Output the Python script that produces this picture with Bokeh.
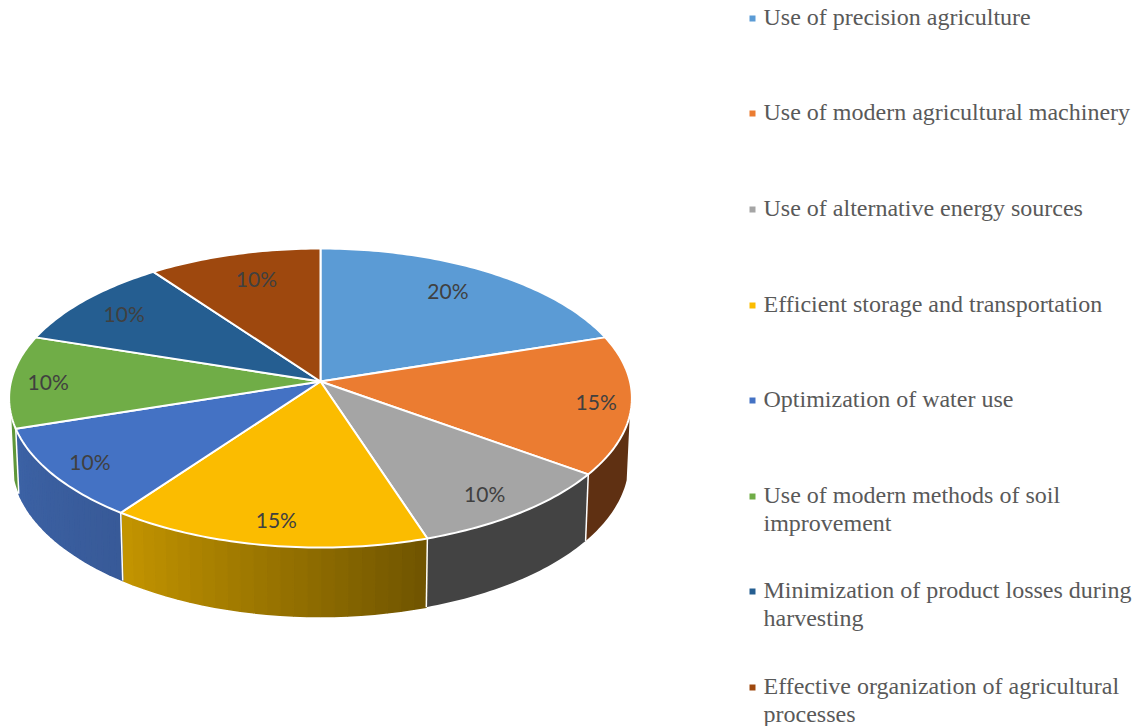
import math
from bokeh.plotting import figure
from bokeh.models import Range1d
from bokeh.core.properties import value
from bokeh.embed import file_html
from bokeh.resources import INLINE

categories = [
    ["Use of precision agriculture"],
    ["Use of modern agricultural machinery"],
    ["Use of alternative energy sources"],
    ["Efficient storage and transportation"],
    ["Optimization of water use"],
    ["Use of modern methods of soil", "improvement"],
    ["Minimization of product losses during", "harvesting"],
    ["Effective organization of agricultural", "processes"],
]
shares = [20, 15, 10, 15, 10, 10, 10, 10]
top_colors = ["#5B9BD5", "#EB7C31", "#A5A5A5", "#FBBC00", "#4472C4", "#70AD47", "#255E91", "#9E480E"]
side_from = ["#3A6A94", "#5F3012", "#434343", "#6F5400", "#385A98", "#5E9739", "#1A4266", "#5F2C08"]
side_to = ["#3A6A94", "#5F3012", "#434343", "#C49500", "#3C62A5", "#5E9739", "#1A4266", "#5F2C08"]
label_radius = [0.81, 0.886, 0.841, 0.84, 0.861, 0.88, 0.835, 0.806]
label_turn = [-2.3, -0.3, 1.0, -0.3, 0.0, 0.0, 0.0, 1.5]
legend_rows = [18, 113, 209, 305, 400, 496, 591, 687]
LINE_GAP = 27.5

# projection of the tilted disc
HX, HY, A, B, K = 320.0, 381.0, 309.5, 147.7, 0.1105
VIS_START, VIS_END = 103.0, 257.0


def top(theta, r=1.0):
    t = math.radians(theta)
    d = 1 + K * math.cos(t)
    return HX + r * A * math.sin(t) / d, HY - r * B * math.cos(t) / d


def bottom(theta):
    x, y = top(theta)
    return HX + 0.99 * (x - HX), y + 63.5 + 0.033 * (y - HY)


def mix(c1, c2, f):
    a = [int(c1[i:i + 2], 16) for i in (1, 3, 5)]
    b = [int(c2[i:i + 2], 16) for i in (1, 3, 5)]
    return "#%02x%02x%02x" % tuple(round(p + (q - p) * f) for p, q in zip(a, b))


p = figure(width=1137, height=726, x_range=Range1d(0, 1137), y_range=Range1d(726, 0),
           output_backend="svg", toolbar_location=None, min_border=0,
           outline_line_color=None, background_fill_color="white",
           margin=(0, 0, 0, 0))
p.axis.visible = False
p.grid.visible = False

total = sum(shares)
edges = [0.0]
for s in shares:
    edges.append(edges[-1] + s / total * 360)

# side wall
sep = []
for i in range(len(shares)):
    a0, a1 = max(edges[i], VIS_START), min(edges[i + 1], VIS_END)
    if a1 <= a0:
        continue
    if side_from[i] == side_to[i]:
        n = max(4, int(a1 - a0))
        ts = [a0 + (a1 - a0) * j / n for j in range(n + 1)]
        q = [top(t) for t in ts] + [bottom(t) for t in reversed(ts)]
        p.patch([c[0] for c in q], [c[1] for c in q], fill_color=side_from[i], line_color=None)
    else:
        n = 24
        xs, ys, cs = [], [], []
        for j in range(n):
            t0 = a0 + (a1 - a0) * j / n
            t1 = a0 + (a1 - a0) * (j + 1) / n
            q = [top(t0), top(t1), bottom(t1), bottom(t0)]
            xs.append([c[0] for c in q])
            ys.append([c[1] for c in q])
            cs.append(mix(side_from[i], side_to[i], (j + 0.5) / n))
        p.patches(xs, ys, fill_color=cs, line_color=cs, line_width=1.5)
    sep.append(a0)
    sep.append(a1)
for t in sorted(set(sep)):
    if VIS_START < t < VIS_END:
        x0, y0 = top(t)
        x1, y1 = bottom(t)
        p.line([x0, x1], [y0, y1], line_color="white", line_width=1.5)

# top faces
for i in range(len(shares)):
    n = max(8, int(edges[i + 1] - edges[i]))
    pts = [(HX, HY)] + [top(edges[i] + (edges[i + 1] - edges[i]) * j / n) for j in range(n + 1)]
    p.patch([c[0] for c in pts], [c[1] for c in pts], fill_color=top_colors[i],
            line_color="white", line_width=2, line_join="round")

# percentage labels
for i, s in enumerate(shares):
    x, y = top((edges[i] + edges[i + 1]) / 2 + label_turn[i], label_radius[i])
    p.text([x], [y], text=[f"{s}%"], text_font=value("Lato"), text_font_size="21px",
           text_color="#404040", text_align="center", text_baseline="middle")

# legend
for i, lines in enumerate(categories):
    y = legend_rows[i]
    p.scatter([752], [y], marker="square", size=6, fill_color=top_colors[i], line_color=None)
    for k, line in enumerate(lines):
        p.text([763], [y - 1.5 + k * LINE_GAP], text=[line], text_font=value("Liberation Serif"),
               text_font_size="24px", text_color="#595959", text_align="left", text_baseline="middle")

open("out.html", "w").write(file_html(p, INLINE))
